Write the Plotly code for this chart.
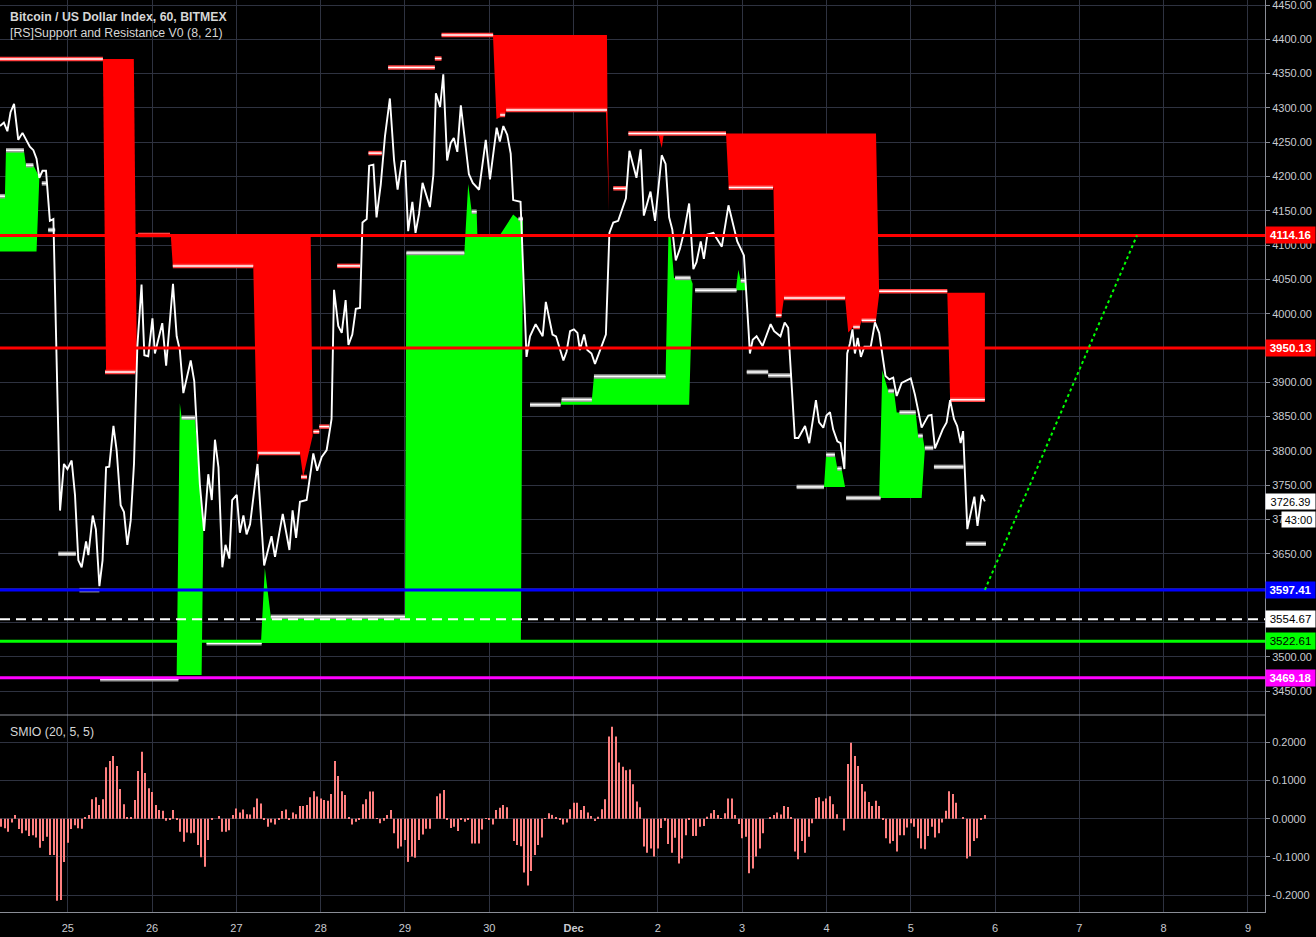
import plotly.graph_objects as go

# ---------------- DATA (x = hours from 25 Nov 00:00) ----------------
price_h = [-19.3, -18.8, -18.2, -17.2, -16.3, -15.3, -14.1, -12.9, -11.7, -10.8, -9.8, -8.9, -8.1, -7.2, -6.2,
           -5.1, -4.1, -3.2, -2.2, -1.1, -0.1, 1.1, 2.05, 3.0, 3.95, 5.2, 5.85, 7.1, 8.0, 9.0, 9.9, 10.9, 11.8,
           13.0, 13.9, 15.05, 16.0, 16.95, 17.9, 18.85, 19.8, 21.0, 21.8, 22.9, 24.1, 24.8, 25.9, 26.9, 28.0,
           28.9, 29.95, 31.0, 31.9, 32.9, 33.8, 35.0, 36.0, 37.6, 38.8, 40.0, 41.0, 41.9, 42.9, 44.0, 44.9,
           46.0, 46.8, 48.1, 49.0, 50.0, 50.9, 51.9,
           54.0, 55.9, 58.0, 59.0, 61.2, 63.1, 64.0, 65.0, 66.1, 68.0, 69.9, 71.0, 72.3, 73.7, 75.1, 75.8,
           77.0, 78.0, 79.1, 79.9, 81.0, 82.0, 83.2, 83.9, 85.1, 85.8, 87.0, 87.9, 89.1, 90.3, 91.7, 92.9,
           93.9, 95.05, 96.0, 96.9, 98.1, 99.0, 100.0, 101.0, 103.1, 104.1, 104.8, 106.0, 106.9, 108.0,
           109.0, 109.9, 110.9, 111.9, 114.2, 115.3, 117.1, 119.0, 120.2, 122.1, 123.0,
           124.0, 125.1, 126.1, 126.8, 128.9, 130.6, 131.6, 133.2, 135.2, 136.1, 138.0, 139.0, 140.1, 141.1,
           142.0, 143.0, 144.1, 145.1, 145.8, 147.0, 147.9, 149.1, 150.1, 153.2, 154.2, 155.3, 156.7, 158.9,
           159.9, 161.9, 163.1, 164.0, 165.9, 167.2, 169.1, 170.2, 171.2, 172.1, 173.1, 174.3, 175.5, 176.9,
           178.1, 179.0, 180.2, 181.1, 182.1, 183.8, 186.2, 188.1, 190.6, 192.5, 193.8,
           194.2, 195.0, 196.1, 197.8, 200.1, 201.1, 202.9, 204.1, 205.1, 207.0, 208.0, 209.9, 211.1, 213.0,
           213.9, 215.1, 216.0, 217.0, 217.9, 219.1, 220.0, 221.1, 221.9, 222.7, 223.4, 224.1, 224.9, 225.8,
           226.8, 228.6, 229.8, 231.0, 232.8, 233.9, 235.0, 236.0, 237.4, 240.0, 241.2, 243.1, 245.0, 245.9,
           246.9, 249.1, 250.2, 251.2, 252.3, 253.2, 254.2, 254.9, 256.1, 258.1, 259.0, 260.2, 261.1]
price_v = [4273.6, 4276, 4278.6, 4266, 4293.7, 4306, 4253.5, 4263.6, 4251, 4243.5, 4238.4, 4226, 4198.2, 4208.3, 4208.3,
           4135.4, 4138, 3918, 3713, 3781, 3773.6, 3786, 3736, 3640.5, 3630.4, 3668, 3648, 3705.8, 3685.7, 3602.8,
           3640.5, 3776, 3777, 3836.4, 3801.3, 3720.9, 3710.8, 3663, 3698.3, 3781.2, 3952, 4042.5, 3939.5, 3938,
           3993.2, 3942, 3967.1, 3986.2, 3924.4, 3982.2, 4043.5, 3967.1, 3947, 3884.2, 3906.8, 3931.9, 3901.8,
           3751, 3683.2, 3766, 3728.4, 3816.3, 3776.1, 3630.4, 3663, 3643, 3728.4, 3736, 3680.7, 3705.8, 3678.2,
           3693.2,
           3781, 3632.9, 3675.6, 3645.5, 3708.3, 3655.5, 3713.3, 3673.1, 3725.9, 3728.4, 3796.2, 3771.1, 3791.2,
           3801.3, 3846.5, 4034.9, 3982.2, 3972.1, 4019.9, 3954.5, 3969.6, 4007.3, 4008.3, 4132.9, 4137.9,
           4215.8, 4217.3, 4140.5, 4188.2, 4258.5, 4313.8, 4223.4, 4180.7, 4222.4, 4222.4, 4120.4, 4163.1,
           4117.8, 4145.5, 4190.7, 4155.5, 4203.3, 4321.4, 4301.3, 4349, 4223.4, 4248.5, 4256, 4236, 4303.8,
           4203.3, 4190.7, 4180.7, 4253.5, 4195.7, 4271.1, 4251,
           4273.6, 4261, 4233.4, 4165.6, 4163.1, 3937, 3967.1, 3984.7, 3967.1, 4017.3, 3969.6, 3967, 3949.5,
           3931.9, 3944.5, 3974.6, 3977.1, 3972.1, 3947, 3969.6, 3947, 3942, 3926.9, 3969.6, 4117.8, 4132.9,
           4135.4, 4168.1, 4237.4, 4198.2, 4239.5, 4143, 4178.1, 4135.4, 4231, 4218.4, 4140.5, 4122.9, 4077.6,
           4095.2, 4120.4, 4160.6, 4065, 4075.1, 4105.3, 4080.1, 4115.3, 4117.8, 4097.7, 4158, 4105.3, 4085,
           3977.1,
           3942, 3962.1, 3967.1, 3953, 3984.7, 3974.6, 3967.1, 3987.2, 3979.6, 3818.9, 3818.9, 3836.4, 3811.3,
           3874.1, 3841.5, 3833.9, 3851.5, 3856.5, 3831.4, 3813.8, 3811.3, 3773.6, 3942, 3957, 3977.1, 3942,
           3964.6, 3937, 3952, 3952, 3987.2, 3972.1, 3909.3, 3904.3, 3906.8, 3880, 3899.2, 3905.8, 3881.7,
           3833.9, 3851.5, 3852.5, 3803.8, 3831.4, 3841.5, 3874.1, 3846.5, 3836.4, 3811.3, 3828.9, 3686,
           3733.4, 3690.7, 3735.9, 3726.39]

# resistance fills (red)
R1_h = [10.0, 18.8, 19.7, 10.9]
R1_p = [4371.3, 4371.3, 3915, 3915]
R2_h = [29.3, 69.15, 69.7, 67.0, 66.1, 54.7, 54.0, 52.8, 29.9]
R2_p = [4116.2, 4116.2, 3821.7, 3761.9, 3796.9, 3796.9, 3784.3, 4069.5, 4069.5]
R3_h = [121.05, 153.5, 153.65, 154.1, 153.2, 124.8, 124.5, 122.05]
R3_p = [4406.3, 4406.3, 4297, 4148.3, 4297, 4297, 4289.7, 4283.8]
R4_h = [168.1, 169.7, 169.1]
R4_p = [4262.8, 4262.8, 4241.6]
R5_h = [187.4, 230.1, 231.0, 230.1, 226.0, 225.5, 223.6, 222.2, 221.3, 203.9, 203.2, 201.6, 200.9, 188.2]
R5_p = [4262.8, 4262.8, 4028, 3990.4, 3990.4, 3980.6, 3980.6, 3972.7, 4023, 4023, 3997.8, 3997.8, 4183.8, 4180.3]
R6_h = [250.4, 261.1, 261.1, 251.2]
R6_p = [4030.5, 4030.5, 3874.7, 3874.7]

# support fills (green)
G1_h = [-19.3, -17.9, -17.6, -12.5, -11.9, -9.8, -8.1, -8.9, -19.3]
G1_p = [4171.3, 4171.3, 4238.2, 4238.2, 4216.5, 4216.5, 4199, 4090.8, 4090.8]
G2_h = [31.0, 31.9, 32.4, 36.2, 38.6, 38.1]
G2_p = [3473.3, 3869.4, 3848.4, 3848.4, 3684.7, 3473.3]
G3_h = [55.0, 56.1, 57.8, 96.0, 96.4, 112.9, 114.0, 115.0, 116.4, 116.6, 123.05, 126.8, 128.3, 129.6, 129.0]
G3_p = [3520, 3629.3, 3558.3, 3558.3, 4088.5, 4088.5, 4189.1, 4148.7, 4148.7, 4116.2, 4114.8, 4144.6, 4138, 4138, 3523]
G5_h = [140.3, 140.6, 149.2, 149.8, 170.2, 171.0, 171.6, 172.6, 177.3, 177.9, 176.9]
G5_p = [3867.2, 3874.7, 3874.7, 3908.3, 3908.3, 4113.3, 4113.3, 4052.1, 4052.1, 4043.5, 3867.2]
G6_h = [190.2, 190.9, 191.6, 193.0, 193.3]
G6_p = [4034.1, 4064.1, 4048.1, 4048.1, 4034.1]
G7_h = [215.3, 215.9, 218.4, 219.1, 220.3, 221.3]
G7_p = [3747.5, 3794.3, 3794.3, 3774.2, 3774.2, 3747.5]
G8_h = [231.0, 231.9, 233.6, 235.2, 236.0, 241.4, 242.1, 243.4, 244.0, 243.1]
G8_p = [3731.4, 3917.5, 3887.3, 3887.3, 3856.1, 3856.1, 3821.9, 3821.9, 3801.7, 3731.4]

# resistance step levels (start hour, end hour, price)
res_start = [-19.3, 10.6, 20.0, 29.9, 54.2, 66.4, 69.9, 71.6, 76.7, 85.6, 91.2, 104.5, 106.4, 123.1, 124.8,
             155.3, 159.6, 188.2, 201.6, 203.9, 223.6, 226.0, 231.0, 251.2]
res_end = [10.0, 19.2, 29.1, 52.8, 66.1, 68.1, 71.6, 74.4, 83.2, 89.4, 104.5, 106.4, 121.1, 124.5, 153.5,
           159.1, 187.4, 200.8, 203.2, 221.3, 225.5, 230.1, 250.4, 261.1]
res_price = [4371.3, 3915, 4114.8, 4069.5, 3797, 3762, 3828, 3835.4, 4069.7, 4234.1, 4358.8, 4372, 4406.3,
             4289.7, 4297, 4182.8, 4262.8, 4183.8, 3997.8, 4023, 3980.6, 3990.4, 4032.6, 3874.7]

# support step levels
sup_start = [-19.3, -17.6, -11.9, -7.4, -5.6, -2.7, 3.3, 9.2, 32.4, 39.5, 57.8, 96.4, 115.0, 128.3, 131.6,
             140.6, 149.8, 172.9, 178.6, 191.6, 193.3, 199.4, 207.5, 215.9, 219.1, 221.6, 233.6, 236.8,
             242.1, 244.0, 246.6, 255.7]
sup_end = [-17.9, -12.5, -9.8, -6.0, -3.6, 2.3, 9.0, 31.5, 36.2, 55.2, 96.0, 112.9, 116.4, 129.6, 140.3,
           149.2, 170.2, 177.3, 190.4, 193.0, 199.4, 206.1, 215.3, 218.4, 220.3, 231.4, 235.2, 241.4,
           243.4, 246.4, 255.0, 261.4]
sup_price = [4171.3, 4238.2, 4216.5, 4190, 4122, 3650, 3597, 3467, 3848.4, 3519.5, 3558.3, 4088.5, 4148.7,
             4138, 3867.2, 3874.7, 3908.3, 4052.1, 4034.1, 4048.1, 3915, 3910, 3747.5, 3794.3, 3774.2,
             3731.4, 3887.3, 3856.1, 3821.9, 3804.4, 3776.7, 3664.6]

# horizontal levels
levels = [4114.16, 3950.13, 3597.41, 3554.67, 3522.61, 3469.18]
level_colors = ["#ff0000", "#ff0000", "#0000ff", "#ffffff", "#00ff00", "#ff00ff"]
level_text_colors = ["#ffffff", "#ffffff", "#ffffff", "#000000", "#000000", "#ffffff"]
level_dash = ["solid", "solid", "solid", "10px,6px", "solid", "solid"]

# projection
proj_h = [261.1, 304.4]
proj_p = [3597.41, 4114.16]

last_price = 3726.39
countdown = "43:00"

# SMIO oscillator, hourly from hour -19
smio_start = -19
smio = [-0.021, -0.025, -0.034, -0.010, 0.010, -0.027, -0.038, -0.031, -0.045, -0.043, -0.049, -0.076, -0.058,
        -0.047, -0.095, -0.095, -0.215, -0.213, -0.113,
        -0.063, -0.027, -0.017, -0.025, -0.026, 0.002, 0.010, 0.051, 0.056, 0.036,
        0.051, 0.135, 0.151, 0.164, 0.138, 0.078, 0.038, 0.002, 0.002, 0.049,
        0.125, 0.175, 0.120, 0.080, 0.070, 0.036, 0.023, 0.021, -0.005, -0.003,
        0.023, -0.002, -0.034, -0.060, -0.036, -0.038, -0.037, -0.069, -0.101, -0.126,
        -0.056, -0.002, 0.000, 0.007, -0.034, -0.034, -0.030, 0.010, 0.027, 0.016,
        0.024, 0.012, 0.011, 0.030, 0.053, 0.040, -0.003, -0.021, -0.010, -0.015,
        -0.002, 0.020, 0.024, -0.002, 0.016, 0.012, 0.033, 0.033, 0.036, 0.056,
        0.072, 0.058, 0.053, 0.049, 0.047, 0.065, 0.151, 0.112, 0.072, 0.062,
        0.002, -0.015, -0.008, -0.003, 0.038, 0.051, 0.071, 0.071, 0.001, -0.012,
        -0.005, 0.010, 0.023, -0.038, -0.078, -0.073, -0.056, -0.113, -0.099, -0.102,
        -0.056, -0.041, -0.026, -0.026, 0.000, 0.059, 0.066, 0.075, -0.002, -0.024,
        -0.021, -0.032, -0.002, -0.008, -0.003, -0.065, -0.065, -0.065, -0.028, 0.001,
        -0.003, -0.015, 0.023, 0.029, 0.036, 0.030, 0.000, -0.058, -0.069, -0.072,
        -0.141, -0.175, -0.137, -0.095, -0.069, -0.049, 0.001, 0.014, 0.010, 0.003,
        -0.002, -0.015, -0.010, 0.025, 0.042, 0.042, 0.023, 0.033, 0.016, 0.007,
        -0.006, 0.005, 0.025, 0.051, 0.215, 0.241, 0.215, 0.147, 0.136, 0.127,
        0.129, 0.090, 0.045, 0.030, -0.073, -0.089, -0.078, -0.099, -0.078, -0.024,
        -0.005, -0.066, -0.089, -0.050, -0.117, -0.104, -0.043, -0.002, -0.045, -0.045,
        -0.021, -0.019, 0.005, 0.014, 0.023, 0.010, 0.001, 0.014, 0.053, 0.053,
        0.010, -0.014, -0.051, -0.047, -0.143, -0.130, -0.099, -0.078, -0.038, 0.000,
        0.002, 0.010, 0.016, 0.011, 0.033, 0.031, 0.002, -0.086, -0.106, -0.058,
        -0.089, -0.047, -0.012, 0.054, 0.056, 0.046, 0.053, 0.059, 0.038, 0.012,
        0.000, -0.031, 0.143, 0.199, 0.164, 0.138, 0.091, 0.071, 0.044, 0.033,
        0.047, 0.033, -0.002, -0.051, -0.065, -0.058, -0.086, -0.043, -0.043, -0.023,
        -0.012, -0.021, -0.051, -0.078, -0.080, -0.045, -0.021, -0.049, -0.038, -0.010,
        0.021, 0.072, 0.065, 0.042, 0.000, 0.002, -0.104, -0.098, -0.058, -0.051,
        -0.003, 0.010]

day_hours = [0, 24, 48, 72, 96, 120, 144, 168, 192, 216, 240, 264, 288, 312, 336]
day_labels = ["25", "26", "27", "28", "29", "30", "<b>Dec</b>", "2", "3", "4", "5", "6", "7", "8", "9"]
smio_ticks = [-0.2, -0.1, 0.0, 0.1, 0.2]
smio_ticktext = ["-0.2000", "-0.1000", "0.0000", "0.1000", "0.2000"]

X_RANGE = [-19.3, 340.85]
Y_RANGE = [3415, 4457.3]
Y2_RANGE = [-0.2442, 0.2715]
SPLIT = 0.216

GRID = "#2e3240"
AXIS = "#8a8d96"
TICKFONT = dict(family="Liberation Sans, Arial", size=11, color="#c9cbd1")

fig = go.Figure()

for hh, pp in [(R1_h, R1_p), (R2_h, R2_p), (R3_h, R3_p), (R4_h, R4_p), (R5_h, R5_p), (R6_h, R6_p)]:
    fig.add_trace(go.Scatter(x=hh, y=pp, fill="toself", fillcolor="#ff0000", mode="lines",
                             line=dict(width=0, color="#ff0000"), hoverinfo="skip"))
for hh, pp in [(G1_h, G1_p), (G2_h, G2_p), (G3_h, G3_p), (G5_h, G5_p), (G6_h, G6_p), (G7_h, G7_p), (G8_h, G8_p)]:
    fig.add_trace(go.Scatter(x=hh, y=pp, fill="toself", fillcolor="#00ff00", mode="lines",
                             line=dict(width=0, color="#00ff00"), hoverinfo="skip"))


def seg_arrays(starts, ends, prices):
    xs, ys = [], []
    for a, b, p in zip(starts, ends, prices):
        xs += [a, b, None]
        ys += [p, p, None]
    return xs, ys


rx, ry = seg_arrays(res_start, res_end, res_price)
sx, sy = seg_arrays(sup_start, sup_end, sup_price)
fig.add_trace(go.Scatter(x=rx, y=ry, mode="lines", line=dict(color="#ff4040", width=4.5), hoverinfo="skip"))
fig.add_trace(go.Scatter(x=sx, y=sy, mode="lines", line=dict(color="#9a9a9a", width=4.5), hoverinfo="skip"))
fig.add_trace(go.Scatter(x=rx, y=ry, mode="lines", line=dict(color="#ffffff", width=1.5), hoverinfo="skip"))
fig.add_trace(go.Scatter(x=sx, y=sy, mode="lines", line=dict(color="#ffffff", width=1.5), hoverinfo="skip"))

fig.add_trace(go.Scatter(x=price_h, y=price_v, mode="lines", line=dict(color="#ffffff", width=1.9),
                         hoverinfo="skip"))

for v, c, d in zip(levels, level_colors, level_dash):
    fig.add_trace(go.Scatter(x=X_RANGE, y=[v, v], mode="lines",
                             line=dict(color=c, width=3 if d == "solid" else 2, dash=d), hoverinfo="skip"))

fig.add_trace(go.Scatter(x=proj_h, y=proj_p, mode="lines",
                         line=dict(color="#00ff00", width=2, dash="dot"), hoverinfo="skip"))

fig.add_trace(go.Bar(x=list(range(smio_start, smio_start + len(smio))), y=smio, width=0.3,
                     marker=dict(color="#ff8080", line=dict(width=0)), yaxis="y2", hoverinfo="skip"))

LBL = "Liberation Sans, Arial"
annotations = []
for v, c, tc in zip(levels, level_colors, level_text_colors):
    annotations.append(dict(x=1, xref="paper", xanchor="left", y=v, yref="y", yanchor="middle",
                            text=("<b>%.2f</b>" % v) if tc == "#ffffff" else ("%.2f" % v),
                            showarrow=False, bgcolor=c, width=49, height=16, borderpad=0,
                            font=dict(family=LBL, size=11.5, color=tc)))
annotations.append(dict(x=1, xref="paper", xanchor="left", y=last_price, yref="y", yanchor="middle",
                        text="%.2f" % last_price, showarrow=False, bgcolor="#ffffff", width=49, height=15,
                        borderpad=0, font=dict(family=LBL, size=11, color="#000000")))
annotations.append(dict(x=1, xref="paper", xanchor="left", xshift=16, y=last_price - 26.3, yref="y",
                        yanchor="middle", text=countdown, showarrow=False, bgcolor="#ffffff", width=33,
                        height=15, borderpad=0, font=dict(family=LBL, size=11, color="#000000")))
annotations.append(dict(x=0.0063, xref="paper", xanchor="left", y=1 - 17 / 912, yref="paper", yanchor="middle",
                        text="<b>Bitcoin / US Dollar Index, 60, BITMEX</b>", showarrow=False,
                        font=dict(family=LBL, size=12.3, color="#d6d6d6")))
annotations.append(dict(x=0.0063, xref="paper", xanchor="left", y=1 - 33 / 912, yref="paper", yanchor="middle",
                        text="[RS]Support and Resistance V0 (8, 21)", showarrow=False,
                        font=dict(family=LBL, size=12.3, color="#d6d6d6")))
annotations.append(dict(x=0.0063, xref="paper", xanchor="left", y=1 - 732 / 912, yref="paper", yanchor="middle",
                        text="SMIO (20, 5, 5)", showarrow=False,
                        font=dict(family=LBL, size=12.3, color="#d6d6d6")))

fig.update_layout(
    width=1316, height=937,
    margin=dict(l=0, r=51, t=0, b=25, pad=0, autoexpand=False),
    paper_bgcolor="#000000", plot_bgcolor="#000000",
    showlegend=False, hovermode=False,
    xaxis=dict(range=X_RANGE, tickvals=day_hours, ticktext=day_labels, showgrid=True, gridcolor=GRID,
               zeroline=False, showline=True, linecolor=AXIS, anchor="y2", ticks="", tickfont=TICKFONT,
               automargin=False, ticklabelstandoff=6),
    yaxis=dict(domain=[SPLIT, 1], range=Y_RANGE, side="right", dtick=50, tick0=0, tickformat=".2f",
               showgrid=True, gridcolor=GRID, zeroline=False, showline=True, linecolor=AXIS,
               ticks="outside", ticklen=4, tickcolor=AXIS, tickfont=TICKFONT, automargin=False,
               ticklabeloverflow="allow"),
    yaxis2=dict(domain=[0, SPLIT], range=Y2_RANGE, side="right", tickvals=smio_ticks, ticktext=smio_ticktext,
                showgrid=True, gridcolor=GRID, zeroline=False, showline=True, linecolor=AXIS,
                ticks="outside", ticklen=4, tickcolor=AXIS, tickfont=TICKFONT, anchor="x", automargin=False),
    annotations=annotations,
    shapes=[dict(type="line", xref="paper", yref="paper", x0=0, x1=1, y0=SPLIT, y1=SPLIT,
                 line=dict(color=AXIS, width=1))],
)

fig.write_html("out.html", config={"displayModeBar": False},
               post_script="document.body.style.margin='0px';document.body.style.background='#000';")
